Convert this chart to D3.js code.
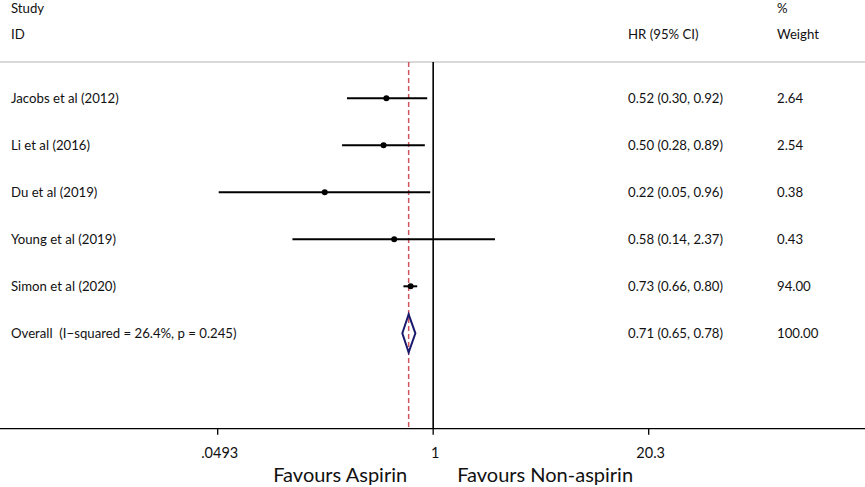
<!DOCTYPE html>
<meta charset="utf-8">
<head>
	<title>Forest plot</title>
</head>

<style>
	body {margin: 0; background: #fff;}
	text {font-family: Lato, "Open Sans", sans-serif; fill: #111; white-space: pre;}
</style>

<body>
	<svg width="865" height="487"></svg>

	<script src="https://d3js.org/d3.v7.min.js"></script>
	<script>
var studies = ['Jacobs et al (2012)', 'Li et al (2016)', 'Du et al (2019)', 'Young et al (2019)', 'Simon et al (2020)'];
var hr = [0.52, 0.50, 0.22, 0.58, 0.73];
var lower = [0.30, 0.28, 0.05, 0.14, 0.66];
var upper = [0.92, 0.89, 0.96, 2.37, 0.80];
var weights = ['2.64', '2.54', '0.38', '0.43', '94.00'];

var overallLabel = 'Overall  (I\u2212squared = 26.4%, p = 0.245)';
var overall = {hr: 0.71, lo: 0.65, hi: 0.78, weight: '100.00'};

var tickValues = [0.0493, 1, 20.3];
var tickLabels = ['.0493', '1', '20.3'];

var svg = d3.select('svg');
var fs = 13.2;

var x = d3.scaleLog().domain([0.0493, 20.3]).range([217.7, 648.7]);
var y = d3.scaleLinear().domain([0, 5]).range([98.3, 333.3]);

var topY = 62, axisY = 428.7;

// header
function label(tx, ty, s, size) {
	svg.append('text').attr('x', tx).attr('y', ty)
		.style('font-size', (size || fs) + 'px').text(s);
}
label(11, 13, 'Study');
label(11, 39, 'ID');
label(628, 39, 'HR (95% CI)');
label(777, 13, '%');
label(777, 39, 'Weight');

svg.append('line').attr('x1', 0).attr('x2', 865)
	.attr('y1', topY).attr('y2', topY)
	.attr('stroke', '#b4b4b4').attr('stroke-width', 1.2);

// reference lines
svg.append('line').attr('x1', x(1)).attr('x2', x(1))
	.attr('y1', topY).attr('y2', axisY)
	.attr('stroke', '#000').attr('stroke-width', 1.6);

svg.append('line').attr('x1', x(overall.hr)).attr('x2', x(overall.hr))
	.attr('y1', topY).attr('y2', axisY)
	.attr('stroke', '#d0545e').attr('stroke-width', 1.5)
	.attr('stroke-dasharray', '5,3');

// studies
var rows = svg.selectAll('g.row')
	.data(studies)
	.enter().append('g').attr('class', 'row');

rows.append('text')
	.attr('x', 11)
	.attr('y', function(d, i) {return y(i);})
	.attr('dy', '0.35em')
	.style('font-size', fs + 'px')
	.text(function(d) {return d;});

rows.append('line')
	.attr('x1', function(d, i) {return x(lower[i]);})
	.attr('x2', function(d, i) {return x(upper[i]);})
	.attr('y1', function(d, i) {return y(i);})
	.attr('y2', function(d, i) {return y(i);})
	.attr('stroke', '#000').attr('stroke-width', 2);

rows.append('circle')
	.attr('cx', function(d, i) {return x(hr[i]);})
	.attr('cy', function(d, i) {return y(i);})
	.attr('r', 3).attr('fill', '#000');

rows.append('text')
	.attr('x', 628)
	.attr('y', function(d, i) {return y(i);})
	.attr('dy', '0.35em')
	.style('font-size', fs + 'px')
	.text(function(d, i) {return hr[i].toFixed(2) + ' (' + lower[i].toFixed(2) + ', ' + upper[i].toFixed(2) + ')';});

rows.append('text')
	.attr('x', 777)
	.attr('y', function(d, i) {return y(i);})
	.attr('dy', '0.35em')
	.style('font-size', fs + 'px')
	.text(function(d, i) {return weights[i];});

// overall
var oy = y(5);
svg.append('text').attr('x', 11).attr('y', oy).attr('dy', '0.35em')
	.style('font-size', fs + 'px').text(overallLabel);
svg.append('path')
	.attr('d', 'M' + x(overall.lo) + ',' + oy +
		'L' + x(overall.hr) + ',' + (oy - 19) +
		'L' + x(overall.hi) + ',' + oy +
		'L' + x(overall.hr) + ',' + (oy + 19) + 'Z')
	.attr('fill', 'none').attr('stroke', '#1a1a6e').attr('stroke-width', 2);
svg.append('text').attr('x', 628).attr('y', oy).attr('dy', '0.35em')
	.style('font-size', fs + 'px')
	.text(overall.hr.toFixed(2) + ' (' + overall.lo.toFixed(2) + ', ' + overall.hi.toFixed(2) + ')');
svg.append('text').attr('x', 777).attr('y', oy).attr('dy', '0.35em')
	.style('font-size', fs + 'px').text(overall.weight);

// axis
svg.append('line').attr('x1', 0).attr('x2', 865)
	.attr('y1', axisY).attr('y2', axisY)
	.attr('stroke', '#000').attr('stroke-width', 1.3);

var ticks = svg.selectAll('g.tick')
	.data(tickValues)
	.enter().append('g').attr('class', 'tick');
ticks.append('line')
	.attr('x1', function(d) {return x(d);})
	.attr('x2', function(d) {return x(d);})
	.attr('y1', axisY).attr('y2', axisY + 6)
	.attr('stroke', '#000').attr('stroke-width', 1.3);
ticks.append('text')
	.attr('x', function(d) {return x(d) + 2;})
	.attr('y', 458)
	.attr('text-anchor', 'middle')
	.style('font-size', '14.5px')
	.text(function(d, i) {return tickLabels[i];});

svg.append('text').attr('x', x(1) - 26).attr('y', 482)
	.attr('text-anchor', 'end').style('font-size', '20px').text('Favours Aspirin');
svg.append('text').attr('x', x(1) + 24).attr('y', 482)
	.style('font-size', '20px').text('Favours Non-aspirin');
	</script>
</body>
</html>
